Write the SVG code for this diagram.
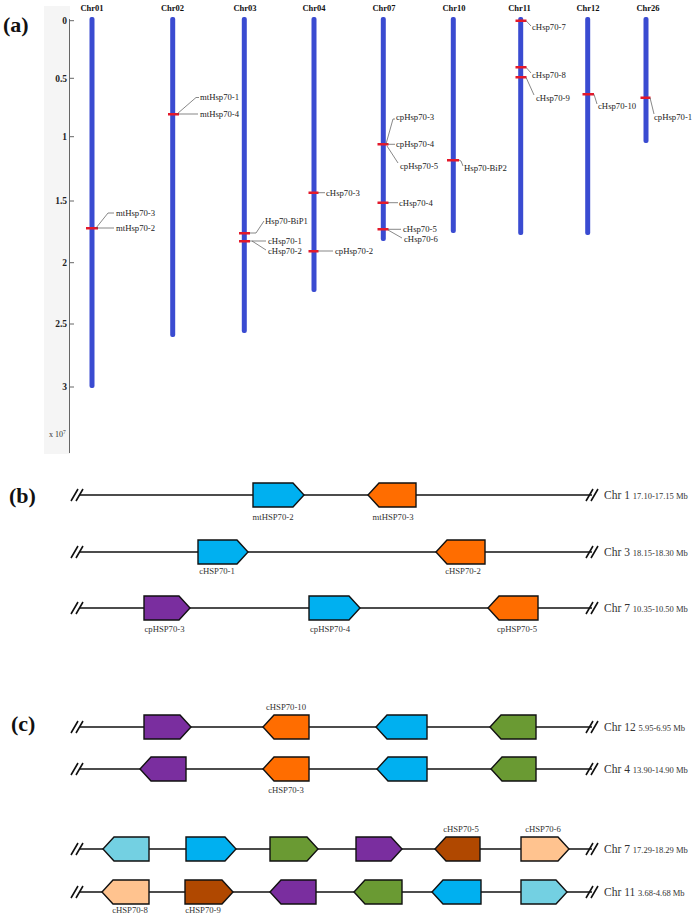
<svg xmlns="http://www.w3.org/2000/svg" width="697" height="918" viewBox="0 0 697 918">
<style>
.pl{font-family:"Liberation Serif",serif;font-weight:bold;font-size:22px;fill:#111}
.ax{font-family:"Liberation Serif",serif;font-weight:bold;font-size:9.5px;fill:#222;text-anchor:end}
.cn{font-family:"Liberation Serif",serif;font-weight:bold;font-size:8.5px;fill:#111;text-anchor:middle}
.gl{font-family:"Liberation Serif",serif;font-size:8.7px;fill:#222}
.gn{font-family:"Liberation Serif",serif;font-size:8.7px;fill:#333;text-anchor:middle}
.rt{font-family:"Liberation Serif",serif;font-size:11.5px;fill:#333}
.rs{font-size:8.5px}
.chr{fill:#3a4bd1}
.mk{fill:#e3192b}
.ld{fill:none;stroke:#555;stroke-width:0.7}
.tk{stroke:#666;stroke-width:1}
.bb{stroke:#111;stroke-width:1.3}
.sl{stroke:#111;stroke-width:1.6}
.g{stroke:#111;stroke-width:1.4;stroke-linejoin:miter}
.blue{fill:#00b0f0}.orange{fill:#ff6d00}.purple{fill:#7a2e9f}.green{fill:#6a9a33}.brown{fill:#b04800}.peach{fill:#ffc38f}.lblue{fill:#73d0e2}
</style>

<!-- Panel (a) -->
<g id="panel-a-label"><text class="pl" x="3" y="32">(a)</text></g>
<g id="axis">
<rect x="44" y="6" width="26" height="448" fill="#f5f5f5"/>
<line class="tk" x1="69.5" y1="19" x2="69.5" y2="453"/>
<line class="tk" x1="69.5" y1="20.7" x2="74" y2="20.7"/>
<line class="tk" x1="69.5" y1="78.3" x2="74" y2="78.3"/>
<line class="tk" x1="69.5" y1="136.7" x2="74" y2="136.7"/>
<line class="tk" x1="69.5" y1="201" x2="74" y2="201"/>
<line class="tk" x1="69.5" y1="262.7" x2="74" y2="262.7"/>
<line class="tk" x1="69.5" y1="324" x2="74" y2="324"/>
<line class="tk" x1="69.5" y1="387" x2="74" y2="387"/>
<text class="ax" x="67" y="24">0</text>
<text class="ax" x="67" y="81.5">0.5</text>
<text class="ax" x="67" y="140">1</text>
<text class="ax" x="67" y="204">1.5</text>
<text class="ax" x="67" y="266">2</text>
<text class="ax" x="67" y="327">2.5</text>
<text class="ax" x="67" y="390">3</text>
<text x="49" y="437" font-family="Liberation Serif, serif" font-size="8" fill="#333">x 10<tspan font-size="5.5" dy="-3.5">7</tspan></text>
</g>

<g id="chr01"><text class="cn" x="92" y="11">Chr01</text><rect class="chr" x="89.5" y="17" width="5" height="371" rx="2"/><rect class="mk" x="86" y="227" width="12" height="2.5"/></g>
<g id="chr02"><text class="cn" x="172.5" y="11">Chr02</text><rect class="chr" x="170.2" y="17" width="5" height="320" rx="2"/><rect class="mk" x="168" y="113" width="11" height="2.5"/></g>
<g id="chr03"><text class="cn" x="245" y="11">Chr03</text><rect class="chr" x="241.8" y="17" width="5" height="316" rx="2"/><rect class="mk" x="239" y="232" width="11" height="2.5"/><rect class="mk" x="239" y="240" width="11" height="2.5"/></g>
<g id="chr04"><text class="cn" x="314" y="11">Chr04</text><rect class="chr" x="311.5" y="17" width="5" height="275" rx="2"/><rect class="mk" x="308.5" y="191.5" width="10" height="2.5"/><rect class="mk" x="308.5" y="250" width="10" height="2.5"/></g>
<g id="chr07"><text class="cn" x="384" y="11">Chr07</text><rect class="chr" x="380.8" y="17" width="5" height="224" rx="2"/><rect class="mk" x="377.5" y="143" width="11" height="2.5"/><rect class="mk" x="377.5" y="201.5" width="11" height="2.5"/><rect class="mk" x="377.5" y="228" width="11" height="2.5"/></g>
<g id="chr10"><text class="cn" x="454" y="11">Chr10</text><rect class="chr" x="450.8" y="17" width="5" height="216" rx="2"/><rect class="mk" x="447" y="159" width="12" height="2.5"/></g>
<g id="chr11"><text class="cn" x="519.5" y="11">Chr11</text><rect class="chr" x="518.2" y="17" width="5" height="218" rx="2"/><rect class="mk" x="515.5" y="19.5" width="11" height="2.5"/><rect class="mk" x="515.5" y="66" width="11" height="2.5"/><rect class="mk" x="515.5" y="76" width="11" height="2.5"/></g>
<g id="chr12"><text class="cn" x="588" y="11">Chr12</text><rect class="chr" x="585.2" y="17" width="5" height="218" rx="2"/><rect class="mk" x="582.5" y="93" width="11.5" height="2.5"/></g>
<g id="chr26"><text class="cn" x="648" y="11">Chr26</text><rect class="chr" x="643.5" y="17" width="5" height="126" rx="2"/><rect class="mk" x="640.5" y="96.5" width="10" height="2.5"/></g>

<g id="connectors">
<path class="ld" d="M96,228 L108,213 L114,213"/>
<path class="ld" d="M97,228 L114,228"/>
<path class="ld" d="M177,114 L196,97.5 L199,97.5"/>
<path class="ld" d="M179,114 L198,114"/>
<path class="ld" d="M250,233 L256,233 L264,221"/>
<path class="ld" d="M250,241 L266,241"/>
<path class="ld" d="M252,241 L266,250"/>
<path class="ld" d="M318,192.7 L325,192.7"/>
<path class="ld" d="M318,251 L333,251"/>
<path class="ld" d="M386,144 L393,119 L395,119"/>
<path class="ld" d="M388,144.3 L395,144.3"/>
<path class="ld" d="M387,146 L398,163"/>
<path class="ld" d="M388,202.7 L398,202.7"/>
<path class="ld" d="M388,229.3 L401,229.3"/>
<path class="ld" d="M388,230 L402,238"/>
<path class="ld" d="M459,160 L461,161 L463,166"/>
<path class="ld" d="M526,20.7 L531,26"/>
<path class="ld" d="M526,67.3 L531,73"/>
<path class="ld" d="M526,77.3 L534,95"/>
<path class="ld" d="M594,94.3 L597,104"/>
<path class="ld" d="M650,97.7 L654,114"/>
</g>

<g id="gene-labels-a">
<text class="gl" x="116" y="215.5">mtHsp70-3</text>
<text class="gl" x="116" y="231">mtHsp70-2</text>
<text class="gl" x="200" y="100">mtHsp70-1</text>
<text class="gl" x="200" y="117">mtHsp70-4</text>
<text class="gl" x="265" y="223.7">Hsp70-BiP1</text>
<text class="gl" x="268" y="243.7">cHsp70-1</text>
<text class="gl" x="268" y="254">cHsp70-2</text>
<text class="gl" x="326" y="195.7">cHsp70-3</text>
<text class="gl" x="335" y="254">cpHsp70-2</text>
<text class="gl" x="396" y="119.7">cpHsp70-3</text>
<text class="gl" x="396" y="147.3">cpHsp70-4</text>
<text class="gl" x="400" y="168.7">cpHsp70-5</text>
<text class="gl" x="399" y="205.7">cHsp70-4</text>
<text class="gl" x="403" y="232.3">cHsp70-5</text>
<text class="gl" x="404" y="242.3">cHsp70-6</text>
<text class="gl" x="464" y="171.3">Hsp70-BiP2</text>
<text class="gl" x="532" y="30.3">cHsp70-7</text>
<text class="gl" x="532" y="78">cHsp70-8</text>
<text class="gl" x="536" y="100.7">cHsp70-9</text>
<text class="gl" x="598" y="109">cHsp70-10</text>
<text class="gl" x="654" y="120.3">cpHsp70-1</text>
</g>

<!-- Panel (b) -->
<g id="panel-b-label"><text class="pl" x="9" y="503">(b)</text></g>
<g id="chromosome-lines">
<g id="row-b1"><line class="bb" x1="79" y1="495" x2="592" y2="495"/><path class="sl" d="M71,501 L78,489 M76,501 L83,489 M586,501 L593,489 M591,501 L598,489"/><text class="rt" x="604" y="499">Chr 1 <tspan class="rs">17.10-17.15 Mb</tspan></text></g>
<g id="row-b2"><line class="bb" x1="79" y1="552" x2="592" y2="552"/><path class="sl" d="M71,558 L78,546 M76,558 L83,546 M586,558 L593,546 M591,558 L598,546"/><text class="rt" x="604" y="556">Chr 3 <tspan class="rs">18.15-18.30 Mb</tspan></text></g>
<g id="row-b3"><line class="bb" x1="79" y1="608" x2="592" y2="608"/><path class="sl" d="M71,614 L78,602 M76,614 L83,602 M586,614 L593,602 M591,614 L598,602"/><text class="rt" x="604" y="612">Chr 7 <tspan class="rs">10.35-10.50 Mb</tspan></text></g>
<g id="row-c1"><line class="bb" x1="79" y1="727" x2="592" y2="727"/><path class="sl" d="M71,733 L78,721 M76,733 L83,721 M586,733 L593,721 M591,733 L598,721"/><text class="rt" x="604" y="731">Chr 12 <tspan class="rs">5.95-6.95 Mb</tspan></text></g>
<g id="row-c2"><line class="bb" x1="79" y1="769" x2="592" y2="769"/><path class="sl" d="M71,775 L78,763 M76,775 L83,763 M586,775 L593,763 M591,775 L598,763"/><text class="rt" x="604" y="773">Chr 4 <tspan class="rs">13.90-14.90 Mb</tspan></text></g>
<g id="row-c3"><line class="bb" x1="79" y1="849" x2="592" y2="849"/><path class="sl" d="M71,855 L78,843 M76,855 L83,843 M586,855 L593,843 M591,855 L598,843"/><text class="rt" x="604" y="853">Chr 7 <tspan class="rs">17.29-18.29 Mb</tspan></text></g>
<g id="row-c4"><line class="bb" x1="79" y1="892" x2="592" y2="892"/><path class="sl" d="M71,898 L78,886 M76,898 L83,886 M586,898 L593,886 M591,898 L598,886"/><text class="rt" x="604" y="896">Chr 11 <tspan class="rs">3.68-4.68 Mb</tspan></text></g>
</g>

<g id="mtHSP70-2"><path class="g blue" d="M253,483 H293 L304,495 L293,507 H253 Z"/><text class="gn" x="273" y="520">mtHSP70-2</text></g>
<g id="mtHSP70-3"><path class="g orange" d="M416,483 H379 L368,495 L379,507 H416 Z"/><text class="gn" x="393" y="520">mtHSP70-3</text></g>
<g id="cHSP70-1"><path class="g blue" d="M198,540 H237 L248,552 L237,564 H198 Z"/><text class="gn" x="217" y="574">cHSP70-1</text></g>
<g id="cHSP70-2"><path class="g orange" d="M485,540 H447 L436,552 L447,564 H485 Z"/><text class="gn" x="463" y="574">cHSP70-2</text></g>
<g id="cpHSP70-3"><path class="g purple" d="M144,596 H179 L190,608 L179,620 H144 Z"/><text class="gn" x="164.5" y="632">cpHSP70-3</text></g>
<g id="cpHSP70-4"><path class="g blue" d="M309,596 H349 L360,608 L349,620 H309 Z"/><text class="gn" x="330" y="632">cpHSP70-4</text></g>
<g id="cpHSP70-5"><path class="g orange" d="M538,596 H499 L488,608 L499,620 H538 Z"/><text class="gn" x="517" y="632">cpHSP70-5</text></g>

<!-- Panel (c) -->
<g id="panel-c-label"><text class="pl" x="11" y="731">(c)</text></g>
<g id="c1-purple"><path class="g purple" d="M144,715 H180 L191,727 L180,739 H144 Z"/></g>
<g id="cHSP70-10"><path class="g orange" d="M309,715 H274 L263,727 L274,739 H309 Z"/><text class="gn" x="286" y="710">cHSP70-10</text></g>
<g id="c1-blue"><path class="g blue" d="M427,715 H387 L376,727 L387,739 H427 Z"/></g>
<g id="c1-green"><path class="g green" d="M536,715 H501 L490,727 L501,739 H536 Z"/></g>

<g id="c2-purple"><path class="g purple" d="M186,757 H151 L140,769 L151,781 H186 Z"/></g>
<g id="cHSP70-3"><path class="g orange" d="M309,757 H274 L263,769 L274,781 H309 Z"/><text class="gn" x="286" y="793">cHSP70-3</text></g>
<g id="c2-blue"><path class="g blue" d="M427,757 H388 L377,769 L388,781 H427 Z"/></g>
<g id="c2-green"><path class="g green" d="M536,757 H502 L491,769 L502,781 H536 Z"/></g>

<g id="c3-lblue"><path class="g lblue" d="M149,837 H114 L103,849 L114,861 H149 Z"/></g>
<g id="c3-blue"><path class="g blue" d="M186,837 H225 L236,849 L225,861 H186 Z"/></g>
<g id="c3-green"><path class="g green" d="M270,837 H307 L318,849 L307,861 H270 Z"/></g>
<g id="c3-purple"><path class="g purple" d="M356,837 H391 L402,849 L391,861 H356 Z"/></g>
<g id="cHSP70-5"><path class="g brown" d="M480,837 H446 L435,849 L446,861 H480 Z"/><text class="gn" x="461" y="832">cHSP70-5</text></g>
<g id="cHSP70-6"><path class="g peach" d="M521,837 H558 L569,849 L558,861 H521 Z"/><text class="gn" x="543" y="832">cHSP70-6</text></g>

<g id="cHSP70-8"><path class="g peach" d="M149,880 H113 L102,892 L113,904 H149 Z"/><text class="gn" x="130" y="913">cHSP70-8</text></g>
<g id="cHSP70-9"><path class="g brown" d="M185,880 H222 L233,892 L222,904 H185 Z"/><text class="gn" x="203" y="913">cHSP70-9</text></g>
<g id="c4-purple"><path class="g purple" d="M316,880 H281 L270,892 L281,904 H316 Z"/></g>
<g id="c4-green"><path class="g green" d="M402,880 H365 L354,892 L365,904 H402 Z"/></g>
<g id="c4-blue"><path class="g blue" d="M481,880 H443 L432,892 L443,904 H481 Z"/></g>
<g id="c4-lblue"><path class="g lblue" d="M521,880 H556 L567,892 L556,904 H521 Z"/></g>
</svg>
